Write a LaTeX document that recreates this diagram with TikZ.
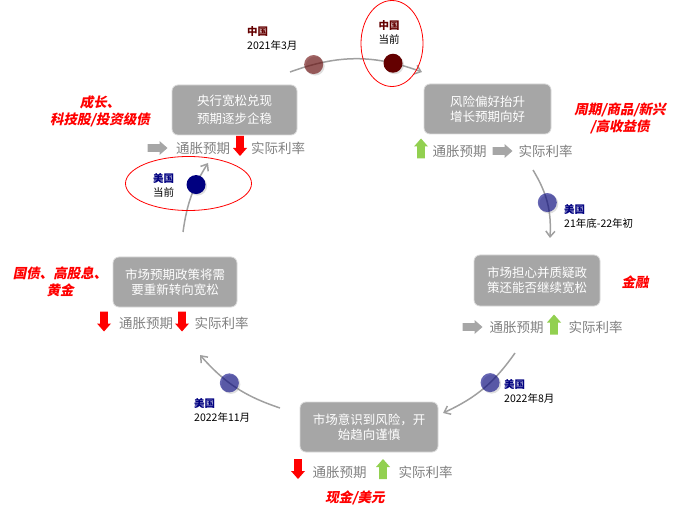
\documentclass[tikz,border=0pt]{standalone}
\usepackage{fontspec}
\setmainfont{Noto Sans CJK SC}
\newfontfamily\hlfont{Noto Sans CJK SC}[FakeSlant=0.2]
\usetikzlibrary{positioning,arrows.meta,shapes.geometric,shadows}
\definecolor{BoxGray}{RGB}{166,166,166}
\definecolor{RowGray}{RGB}{128,128,128}
\definecolor{ArcGray}{RGB}{160,160,160}
\definecolor{UpGreen}{RGB}{146,208,80}
\definecolor{DownRed}{RGB}{255,0,0}
\definecolor{ChinaRed}{RGB}{100,0,0}
\definecolor{USNavy}{RGB}{0,0,128}
\tikzset{
  cycflow/.style={-{Straight Barb[length=2mm,width=3.2mm]},line width=1.5pt,draw=ArcGray},
  stagebox/.style={draw=gray!30,line width=0.8pt,fill=BoxGray,rounded corners=6pt,
    text=white,align=center,font=\fontsize{12.5}{15}\selectfont,inner sep=0pt},
  rowtext/.style={text=RowGray,font=\fontsize{13.5}{16}\selectfont,inner sep=0pt},
  pics/fatarrow/.style={code={
    \fill (-10,-3.8) -- (2,-3.8) -- (2,-7) -- (10,0) -- (2,7) -- (2,3.8) -- (-10,3.8) -- cycle;}},
  grayarrow/.style={fill=BoxGray},
  redarrow/.style={fill=DownRed,rotate=-90,yscale=1},
  greenarrow/.style={fill=UpGreen,rotate=90},
  hotpick/.style={text=red,font=\hlfont\bfseries\fontsize{13.5}{17}\selectfont,
    align=center,inner sep=0pt},
  stagedot/.style={circle,minimum size=19pt,inner sep=0pt,
    drop shadow={opacity=0.25,shadow xshift=1.5pt,shadow yshift=-1.5pt}},
  datelabel/.style={font=\fontsize{10.5}{14}\selectfont,align=left,inner sep=0pt},
  focusring/.style={ellipse,draw=red,line width=0.8pt,inner sep=0pt}
}
\newcommand{\cnname}{\textcolor{ChinaRed}{\bfseries 中国}}
\newcommand{\usname}{\textcolor{USNavy}{\bfseries 美国}}

\begin{document}
\begin{tikzpicture}[x=1pt,y=1pt]
  \useasboundingbox (0,0) rectangle (700,517);
  % stages
  \node[stagebox,minimum width=125pt,minimum height=50pt] (easing) at (234.5,407)
    {央行宽松兑现\\[3pt]预期逐步企稳};
  \node[stagebox,minimum width=127pt,minimum height=50pt] (riskon) at (487.5,408)
    {风险偏好抬升\\增长预期向好};
  \node[stagebox,minimum width=126pt,minimum height=51pt] (doubt) at (537,236.5)
    {市场担心并质疑政\\策还能否继续宽松};
  \node[stagebox,minimum width=138pt,minimum height=50pt] (caution) at (369,90)
    {市场意识到风险，开\\始趋向谨慎};
  \node[stagebox,minimum width=124pt,minimum height=50pt] (reease) at (175,235)
    {市场预期政策将需\\要重新转向宽松};
  % rows under the stages
  \pic[grayarrow] (e1) at (157.5,369) {fatarrow};
  \node[rowtext] (e2) at (203,369) {通胀预期};
  \pic[redarrow] (e3) at (240,371) {fatarrow};
  \node[rowtext] (e4) at (278,369) {实际利率};
  \pic[greenarrow] (r1) at (421,368.5) {fatarrow};
  \node[rowtext] (r2) at (459.5,366) {通胀预期};
  \pic[grayarrow] (r3) at (502.5,366) {fatarrow};
  \node[rowtext] (r4) at (545.5,366) {实际利率};
  \pic[grayarrow] (d1) at (472.5,190) {fatarrow};
  \node[rowtext] (d2) at (516.5,190) {通胀预期};
  \pic[greenarrow] (d3) at (554,192.5) {fatarrow};
  \node[rowtext] (d4) at (595.5,190) {实际利率};
  \pic[redarrow] (c1) at (298,48) {fatarrow};
  \node[rowtext] (c2) at (339.5,45) {通胀预期};
  \pic[greenarrow] (c3) at (383,48) {fatarrow};
  \node[rowtext] (c4) at (425.5,45) {实际利率};
  \pic[redarrow] (q1) at (104,195.5) {fatarrow};
  \node[rowtext] (q2) at (146,194) {通胀预期};
  \pic[redarrow] (q3) at (182,195.5) {fatarrow};
  \node[rowtext] (q4) at (221.5,194) {实际利率};
  % assets
  \node[hotpick] (growth) at (100,405.5) {成长、\\科技股/投资级债};
  \node[hotpick] (cyclic) at (620,398.5) {周期/商品/新兴\\/高收益债};
  \node[hotpick] (fin) at (635,235) {金融};
  \node[hotpick] (cash) at (355,19) {现金/美元};
  \node[hotpick] (bonds) at (60,235.5) {国债、高股息、\\黄金};
  % cycle arcs with positions
  \coordinate (a0) at (290,445);
  \coordinate (a1) at (422,445);
  \coordinate (b0) at (533,347);
  \coordinate (b1) at (550,279);
  \coordinate (k0) at (515,164);
  \coordinate (k1) at (443,104);
  \coordinate (f0) at (280,109);
  \coordinate (f1) at (200,162);
  \coordinate (g0) at (183,285);
  \coordinate (g1) at (208,354);
  \draw[cycflow] (a0) to[bend left=20]
    node[pos=0.17,stagedot,fill=ChinaRed,fill opacity=0.6] (cnpast) {}
    node[pos=0.79,stagedot,fill=ChinaRed] (cnnow) {} (a1);
  \draw[cycflow] (b0) to[bend left=17]
    node[pos=0.5,stagedot,fill=USNavy,fill opacity=0.6] (uslate) {} (b1);
  \draw[cycflow] (k0) to[bend left=15]
    node[pos=0.4,stagedot,fill=USNavy,fill opacity=0.6] (usaug) {} (k1);
  \draw[cycflow] (f0) to[bend left=15]
    node[pos=0.59,stagedot,fill=USNavy,fill opacity=0.6] (usnov) {} (f1);
  \draw[cycflow] (g0) to[bend left=12]
    node[pos=0.68,stagedot,fill=USNavy] (usnow) {} (g1);
  % labels
  \node[datelabel,anchor=west] (cnpastlab) at (247,479) {\cnname\\2021年3月};
  \node[datelabel,align=center] (cnnowlab) at (389,484.5) {\cnname\\当前};
  \node[datelabel,anchor=west] (usnowlab) at (153,331.5) {\usname\\当前};
  \node[datelabel,anchor=west] (uslatelab) at (564,300.5) {\usname\\21年底-22年初};
  \node[datelabel,anchor=west] (usauglab) at (504,126) {\usname\\2022年8月};
  \node[datelabel,anchor=west] (usnovlab) at (194,106.5) {\usname\\2022年11月};
  \node[focusring,minimum width=126pt,minimum height=54pt] (usring) at (188.5,333.5) {};
  \node[focusring,minimum width=62pt,minimum height=86pt] (cnring) at (392,473.5) {};
\end{tikzpicture}
\end{document}
